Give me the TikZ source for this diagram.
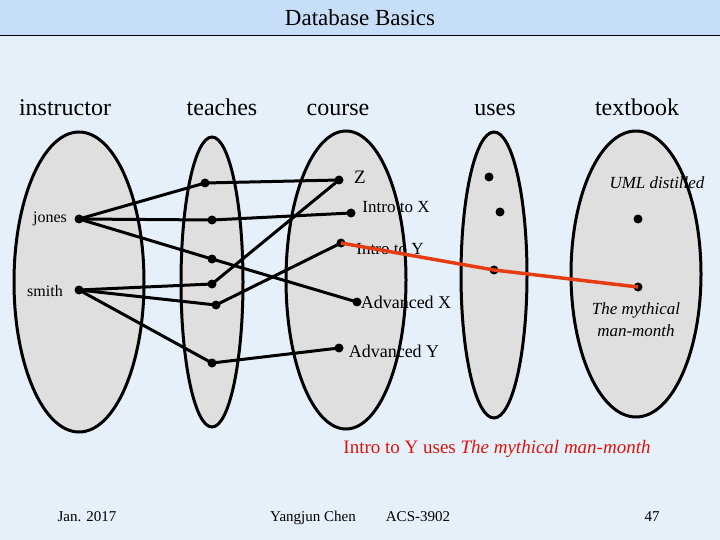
\documentclass[tikz,border=0pt]{standalone}
\usepackage{fontspec}
\setmainfont{Liberation Serif}
\definecolor{bgc}{RGB}{230,240,250}
\definecolor{barc}{RGB}{198,222,248}
\definecolor{redl}{RGB}{230,60,20}
\definecolor{capc}{RGB}{220,20,10}
\begin{document}
\begin{tikzpicture}[x=1pt,y=-1pt,
  set/.style={draw=black,line width=3pt,fill=gray!25},
  dot/.style={circle,fill=black,inner sep=0pt,minimum size=9pt},
  edge/.style={line width=3pt},
  hdr/.style={font=\fontsize{24}{28}\selectfont,anchor=base},
  lbl/.style={font=\fontsize{18}{21}\selectfont,inner sep=0pt},
  foot/.style={font=\fontsize{15}{17}\selectfont,anchor=base}]
\fill[bgc] (0,0) rectangle (720,540);
\useasboundingbox (0,0) rectangle (720,540);
\fill[barc] (0,0) rectangle (720,36);
\draw[line width=1pt] (0,36) -- (720,36);
\node[font=\fontsize{23}{26}\selectfont] (title) at (360,18) {Database Basics};
\node[hdr] (h1) at (65,116) {instructor};
\node[hdr] (h2) at (222,116) {teaches};
\node[hdr] (h3) at (338,116) {course};
\node[hdr] (h4) at (495,116) {uses};
\node[hdr] (h5) at (637,116) {textbook};
\draw[set] (79,282) ellipse [x radius=65, y radius=150];
\draw[set] (212,282) ellipse [x radius=31, y radius=145];
\draw[set] (346,280) ellipse [x radius=60, y radius=149];
\draw[set] (494,275) ellipse [x radius=33, y radius=143];
\draw[set] (636,274) ellipse [x radius=65, y radius=143];
\node[dot] (jones) at (79,219) {};
\node[dot] (smith) at (79,290) {};
\node[dot] (t1) at (205,183) {};
\node[dot] (t2) at (212,220) {};
\node[dot] (t3) at (212,259) {};
\node[dot] (t4) at (212,284) {};
\node[dot] (t5) at (216,305) {};
\node[dot] (t6) at (212,363) {};
\node[dot] (z) at (339,180) {};
\node[dot] (ix) at (351,213) {};
\node[dot] (iy) at (341,243) {};
\node[dot] (ax) at (357,302) {};
\node[dot] (ay) at (339,348) {};
\node[dot] (u1) at (489,177) {};
\node[dot] (u2) at (500,212) {};
\node[dot] (u3) at (494,270) {};
\node[dot] (b1) at (638,219) {};
\node[dot] (b2) at (638,287) {};
\draw[edge] (jones.center) -- (t1.center) -- (z.center);
\draw[edge] (jones.center) -- (t2.center) -- (ix.center);
\draw[edge] (jones.center) -- (t3.center) -- (ax.center);
\draw[edge] (smith.center) -- (t4.center) -- (z.center);
\draw[edge] (smith.center) -- (t5.center) -- (iy.center);
\draw[edge] (smith.center) -- (t6.center) -- (ay.center);
\node[lbl,font=\fontsize{16}{19}\selectfont] (lj) at (50,219) {jones};
\node[lbl,font=\fontsize{16}{19}\selectfont] (ls) at (45,291) {smith};
\node[lbl,font=\fontsize{19}{21}\selectfont] (lz) at (360,177) {Z};
\node[lbl,font=\fontsize{17}{20}\selectfont] (lix) at (396,207) {Intro to X};
\node[lbl,font=\fontsize{17}{20}\selectfont] (liy) at (390,249) {Intro to Y};
\node[lbl] (lax) at (406,302) {Advanced X};
\node[lbl] (lay) at (394,351) {Advanced Y};
\draw[line width=3.5pt,color=redl] (iy.center) -- (u3.center) -- (b2.center);
\node[lbl,font=\itshape\fontsize{17}{20}\selectfont] (uml) at (657,183) {UML distilled};
\node[lbl,font=\itshape\fontsize{17}{22}\selectfont,align=center] (myth) at (636,320) {The mythical\\man-month};
\node[font=\fontsize{19}{22}\selectfont,text=capc] (cap) at (497,449) {Intro to Y uses \textit{The mythical man-month}};
\node[foot] (f1) at (87,521) {Jan. 2017};
\node[foot] (f2) at (313,521) {Yangjun Chen};
\node[foot] (f3) at (418,521) {ACS-3902};
\node[foot] (f4) at (652,521) {47};
\end{tikzpicture}
\end{document}
